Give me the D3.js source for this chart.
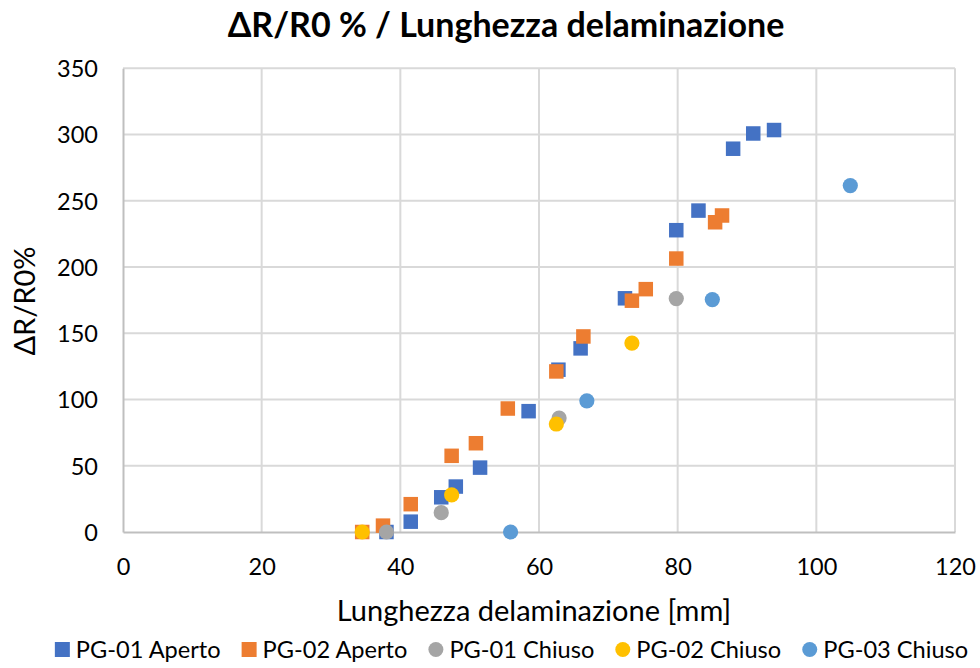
<!DOCTYPE html>
<html>
<head>
<meta charset="utf-8">
<script src="https://cdn.jsdelivr.net/npm/d3@7"></script>
<style>
  html, body { margin: 0; padding: 0; background: #ffffff; }
  svg { display: block; }
  text { font-family: Lato, "Liberation Sans", Arial, sans-serif; fill: #000; }
</style>
</head>
<body>
<svg id="chart" width="980" height="668"></svg>
<script>
// Delamination length [mm] vs relative resistance change ΔR/R0 [%]
const seriesNames = ["PG-01 Aperto", "PG-02 Aperto", "PG-01 Chiuso", "PG-02 Chiuso", "PG-03 Chiuso"];
const seriesColors = ["#4472C4", "#ED7D31", "#A5A5A5", "#FFC000", "#5B9BD5"];
const seriesShapes = ["square", "square", "circle", "circle", "circle"];

const pg01ApertoX = [38.0, 41.5, 45.9, 48.0, 51.5, 58.5, 62.8, 66.0, 72.4, 79.8, 83.0, 88.0, 90.9, 93.9];
const pg01ApertoY = [0, 7.8, 26.2, 34.3, 48.6, 91.2, 122.5, 138.6, 176.4, 227.8, 242.6, 289.3, 300.8, 303.4];

const pg02ApertoX = [86.4, 85.4, 79.8, 75.4, 73.4, 66.4, 62.5, 55.5, 50.9, 47.4, 41.5, 37.5, 34.5];
const pg02ApertoY = [238.9, 233.8, 206.4, 183.3, 174.6, 147.6, 121.2, 93.2, 67.0, 57.5, 21.0, 4.8, 0];

const pg01ChiusoX = [38.0, 45.9, 62.9, 79.8];
const pg01ChiusoY = [0, 14.6, 86.0, 176.2];

const pg02ChiusoX = [34.5, 47.4, 62.5, 73.4];
const pg02ChiusoY = [0, 28.0, 81.5, 142.6];

const pg03ChiusoX = [55.9, 66.9, 85.0, 104.9];
const pg03ChiusoY = [0, 99.0, 175.4, 261.5];

const xTicks = [0, 20, 40, 60, 80, 100, 120];
const yTicks = [0, 50, 100, 150, 200, 250, 300, 350];

const titleText = "ΔR/R0 % / Lunghezza delaminazione";
const xTitleText = "Lunghezza delaminazione [mm]";
const yTitleText = "ΔR/R0%";

const seriesX = [pg01ApertoX, pg02ApertoX, pg01ChiusoX, pg02ChiusoX, pg03ChiusoX];
const seriesY = [pg01ApertoY, pg02ApertoY, pg01ChiusoY, pg02ChiusoY, pg03ChiusoY];
const series = seriesNames.map((name, i) => ({
  name, color: seriesColors[i], shape: seriesShapes[i],
  points: seriesX[i].map((x, j) => ({ x, y: seriesY[i][j] }))
}));

const svg = d3.select("#chart");
const plot = { left: 123, right: 955, top: 68.3, bottom: 532 };

const x = d3.scaleLinear().domain([0, 120]).range([plot.left, plot.right]);
const y = d3.scaleLinear().domain([0, 350]).range([plot.bottom, plot.top]);

// Gridlines
const grid = svg.append("g").attr("class", "grid");
grid.selectAll("line.v").data(xTicks.slice(1)).join("line")
  .attr("x1", d => x(d)).attr("x2", d => x(d))
  .attr("y1", plot.top).attr("y2", plot.bottom)
  .attr("stroke", "#d9d9d9").attr("stroke-width", 2);
grid.selectAll("line.h").data(yTicks.slice(1)).join("line")
  .attr("x1", plot.left).attr("x2", plot.right)
  .attr("y1", d => y(d)).attr("y2", d => y(d))
  .attr("stroke", "#d9d9d9").attr("stroke-width", 2);

// Axes
const xAxis = d3.axisBottom(x).tickValues(xTicks).tickSize(0).tickPadding(0);
const yAxis = d3.axisLeft(y).tickValues(yTicks).tickSize(0).tickPadding(0);

const gx = svg.append("g").attr("transform", `translate(0,${plot.bottom})`).call(xAxis);
gx.select(".domain").attr("stroke", "#bfbfbf").attr("stroke-width", 2);
gx.selectAll(".tick text")
  .attr("y", 43).attr("dy", null)
  .style("font-size", "23.5px").style("font-family", null);

const gy = svg.append("g").attr("transform", `translate(${plot.left},0)`).call(yAxis);
gy.select(".domain").attr("stroke", "#bfbfbf").attr("stroke-width", 2);
gy.selectAll(".tick text")
  .attr("x", -25).attr("dy", "8.4")
  .style("font-size", "23.5px").style("font-family", null);
svg.selectAll(".tick text").attr("fill", "#000");

// Markers
const markers = svg.append("g").attr("class", "markers");
const squareSize = 14.5;
const circleR = 7.6;
series.forEach(s => {
  const g = markers.append("g");
  if (s.shape === "square") {
    g.selectAll("rect").data(s.points).join("rect")
      .attr("x", d => x(d.x) - squareSize / 2)
      .attr("y", d => y(d.y) - squareSize / 2)
      .attr("width", squareSize).attr("height", squareSize)
      .attr("fill", s.color);
  } else {
    g.selectAll("circle").data(s.points).join("circle")
      .attr("cx", d => x(d.x)).attr("cy", d => y(d.y))
      .attr("r", circleR).attr("fill", s.color);
  }
});

// Titles
svg.append("text").attr("x", 506).attr("y", 37)
  .attr("text-anchor", "middle")
  .style("font-size", "34px").style("font-weight", "bold")
  .text(titleText);

svg.append("text").attr("x", 534).attr("y", 621)
  .attr("text-anchor", "middle")
  .style("font-size", "29px")
  .text(xTitleText);

svg.append("text")
  .attr("transform", "translate(35,301) rotate(-90)")
  .attr("text-anchor", "middle")
  .style("font-size", "29px")
  .text(yTitleText);

// Legend
const legend = svg.append("g").attr("class", "legend");
const legendY = 649.5;
const items = legend.selectAll("g").data(series).join("g");
items.append("text")
  .attr("x", 21).attr("y", 8.2)
  .style("font-size", "23.6px")
  .text(d => d.name);
items.each(function (d) {
  const g = d3.select(this);
  if (d.shape === "square") {
    g.append("rect").attr("x", 0).attr("y", -7.5).attr("width", 15).attr("height", 15).attr("fill", d.color);
  } else {
    g.append("circle").attr("cx", 7.5).attr("cy", 0).attr("r", 7.5).attr("fill", d.color);
  }
});
const widths = [];
items.each(function () { widths.push(d3.select(this).select("text").node().getComputedTextLength() + 21); });
const gap = 21;
const total = d3.sum(widths) + gap * (widths.length - 1);
let cursor = 511.5 - total / 2;
items.attr("transform", (d, i) => {
  const t = `translate(${cursor},${legendY})`;
  cursor += widths[i] + gap;
  return t;
});
</script>
</body>
</html>
